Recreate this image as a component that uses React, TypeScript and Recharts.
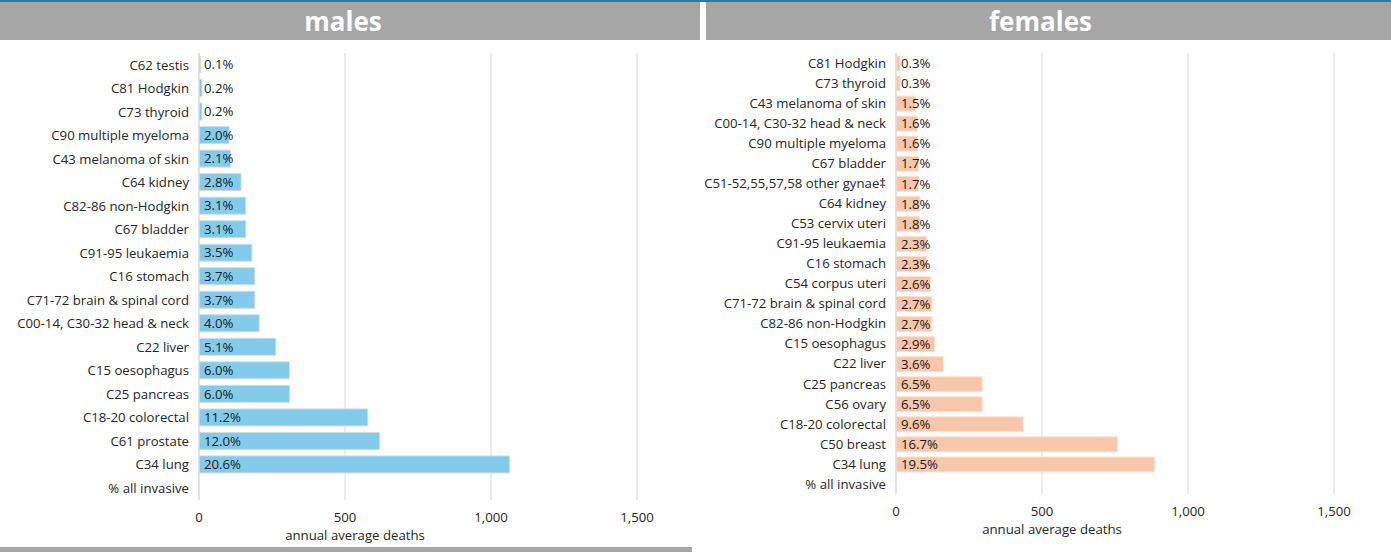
import React from "react";
import { BarChart, Bar, XAxis, YAxis, CartesianGrid, LabelList } from "recharts";

const maleCategories = [
  "C62 testis", "C81 Hodgkin", "C73 thyroid", "C90 multiple myeloma", "C43 melanoma of skin",
  "C64 kidney", "C82-86 non-Hodgkin", "C67 bladder", "C91-95 leukaemia", "C16 stomach",
  "C71-72 brain & spinal cord", "C00-14, C30-32 head & neck", "C22 liver", "C15 oesophagus",
  "C25 pancreas", "C18-20 colorectal", "C61 prostate", "C34 lung", "% all invasive",
];
const maleDeaths = [5, 10, 10, 103, 108, 144, 160, 160, 181, 191, 191, 206, 263, 310, 310, 578, 619, 1063, null];
const malePct = ["0.1%", "0.2%", "0.2%", "2.0%", "2.1%", "2.8%", "3.1%", "3.1%", "3.5%", "3.7%", "3.7%", "4.0%", "5.1%", "6.0%", "6.0%", "11.2%", "12.0%", "20.6%", ""];

const femaleCategories = [
  "C81 Hodgkin", "C73 thyroid", "C43 melanoma of skin", "C00-14, C30-32 head & neck",
  "C90 multiple myeloma", "C67 bladder", "C51-52,55,57,58 other gynae‡", "C64 kidney",
  "C53 cervix uteri", "C91-95 leukaemia", "C16 stomach", "C54 corpus uteri",
  "C71-72 brain & spinal cord", "C82-86 non-Hodgkin", "C15 oesophagus", "C22 liver",
  "C25 pancreas", "C56 ovary", "C18-20 colorectal", "C50 breast", "C34 lung", "% all invasive",
];
const femaleDeaths = [14, 14, 68, 73, 73, 77, 77, 82, 82, 104, 104, 118, 123, 123, 132, 163, 295, 295, 436, 758, 885, null];
const femalePct = ["0.3%", "0.3%", "1.5%", "1.6%", "1.6%", "1.7%", "1.7%", "1.8%", "1.8%", "2.3%", "2.3%", "2.6%", "2.7%", "2.7%", "2.9%", "3.6%", "6.5%", "6.5%", "9.6%", "16.7%", "19.5%", ""];

const xTicks = [0, 500, 1000, 1500];
const axisTitle = "annual average deaths";

const FONT = "'Open Sans', 'Noto Sans', sans-serif";
const FS = 13.2;

const buildData = (cats: string[], vals: (number | null)[], pcts: string[]) =>
  cats.map((name, i) => ({ name, deaths: vals[i], pct: pcts[i] }));

const maleData = buildData(maleCategories, maleDeaths, malePct);
const femaleData = buildData(femaleCategories, femaleDeaths, femalePct);

const fmt = (v: number) => v.toLocaleString("en-US");

const PctLabel = (props: any) => {
  const { x, y, height, value } = props;
  if (!value) return null;
  return (
    <text x={x + 5} y={y + height / 2} dy="0.36em" fill="#1a1a1a" fontSize={FS} fontFamily={FONT}>
      {value}
    </text>
  );
};

const CatTick = (props: any) => {
  const { x, y, payload } = props;
  return (
    <text x={x - 8} y={y} dy="0.36em" textAnchor="end" fill="#262626" fontSize={FS} fontFamily={FONT}>
      {payload.value}
    </text>
  );
};

type PanelProps = {
  data: any[];
  width: number;
  yWidth: number;
  marginRight: number;
  marginBottom: number;
  fill: string;
  stroke: string;
  barSize: number;
};

const Panel = ({ data, width, yWidth, marginRight, marginBottom, fill, stroke, barSize }: PanelProps) => (
  <BarChart
    layout="vertical"
    width={width}
    height={552}
    data={data}
    margin={{ top: 53, right: marginRight, bottom: marginBottom, left: 0 }}
  >
    <CartesianGrid horizontal={false} stroke="#d9d9d9" />
    <XAxis
      type="number"
      domain={[0, 1500]}
      ticks={xTicks}
      tickFormatter={fmt}
      axisLine={false}
      tickLine={false}
      tickMargin={7}
      tick={{ fill: "#262626", fontSize: FS, fontFamily: FONT }}
      allowDataOverflow
    />
    <YAxis
      type="category"
      dataKey="name"
      width={yWidth}
      interval={0}
      tickLine={false}
      tickSize={0}
      axisLine={{ stroke: "#d9d9d9" }}
      tick={<CatTick />}
    />
    <Bar dataKey="deaths" fill={fill} stroke={stroke} strokeWidth={1} barSize={barSize} isAnimationActive={false}>
      <LabelList dataKey="pct" content={<PctLabel />} />
    </Bar>
  </BarChart>
);

const headerStyle = (left: number, width: number, shift: number): React.CSSProperties => ({
  position: "absolute",
  left,
  top: 2,
  width,
  height: 38,
  background: "#a6a6a6",
  color: "#ffffff",
  fontFamily: FONT,
  fontWeight: 700,
  fontSize: 26,
  lineHeight: "38px",
  textAlign: "center",
  boxSizing: "border-box",
  paddingRight: shift,
});

const titleStyle = (left: number, width: number, top: number): React.CSSProperties => ({
  position: "absolute",
  left,
  top,
  width,
  textAlign: "center",
  fontFamily: FONT,
  fontSize: FS,
  color: "#262626",
});

export default function App() {
  return (
    <div style={{ position: "absolute", left: 0, top: 0, width: 1391, height: 552, background: "#ffffff", overflow: "hidden" }}>
      <div style={{ position: "absolute", left: 0, top: 0, width: 1391, height: 2, background: "#1f7fb8" }} />
      <div style={headerStyle(0, 700, 14)}>males</div>
      <div style={headerStyle(706, 685, 16)}>females</div>
      <div style={{ position: "absolute", left: 0, top: 0 }}>
        <Panel data={maleData} width={700} yWidth={199} marginRight={63} marginBottom={22} fill="#83cbeb" stroke="#d9d9d9" barSize={17} />
      </div>
      <div style={{ position: "absolute", left: 705, top: 0 }}>
        <Panel data={femaleData} width={686} yWidth={191} marginRight={57} marginBottom={28} fill="#f7c7ac" stroke="#fbe2d5" barSize={15} />
      </div>
      <div style={titleStyle(0, 710, 526)}>{axisTitle}</div>
      <div style={titleStyle(705, 694, 520)}>{axisTitle}</div>
      <div style={{ position: "absolute", left: 0, top: 547, width: 692, height: 5, background: "#a6a6a6" }} />
    </div>
  );
}
